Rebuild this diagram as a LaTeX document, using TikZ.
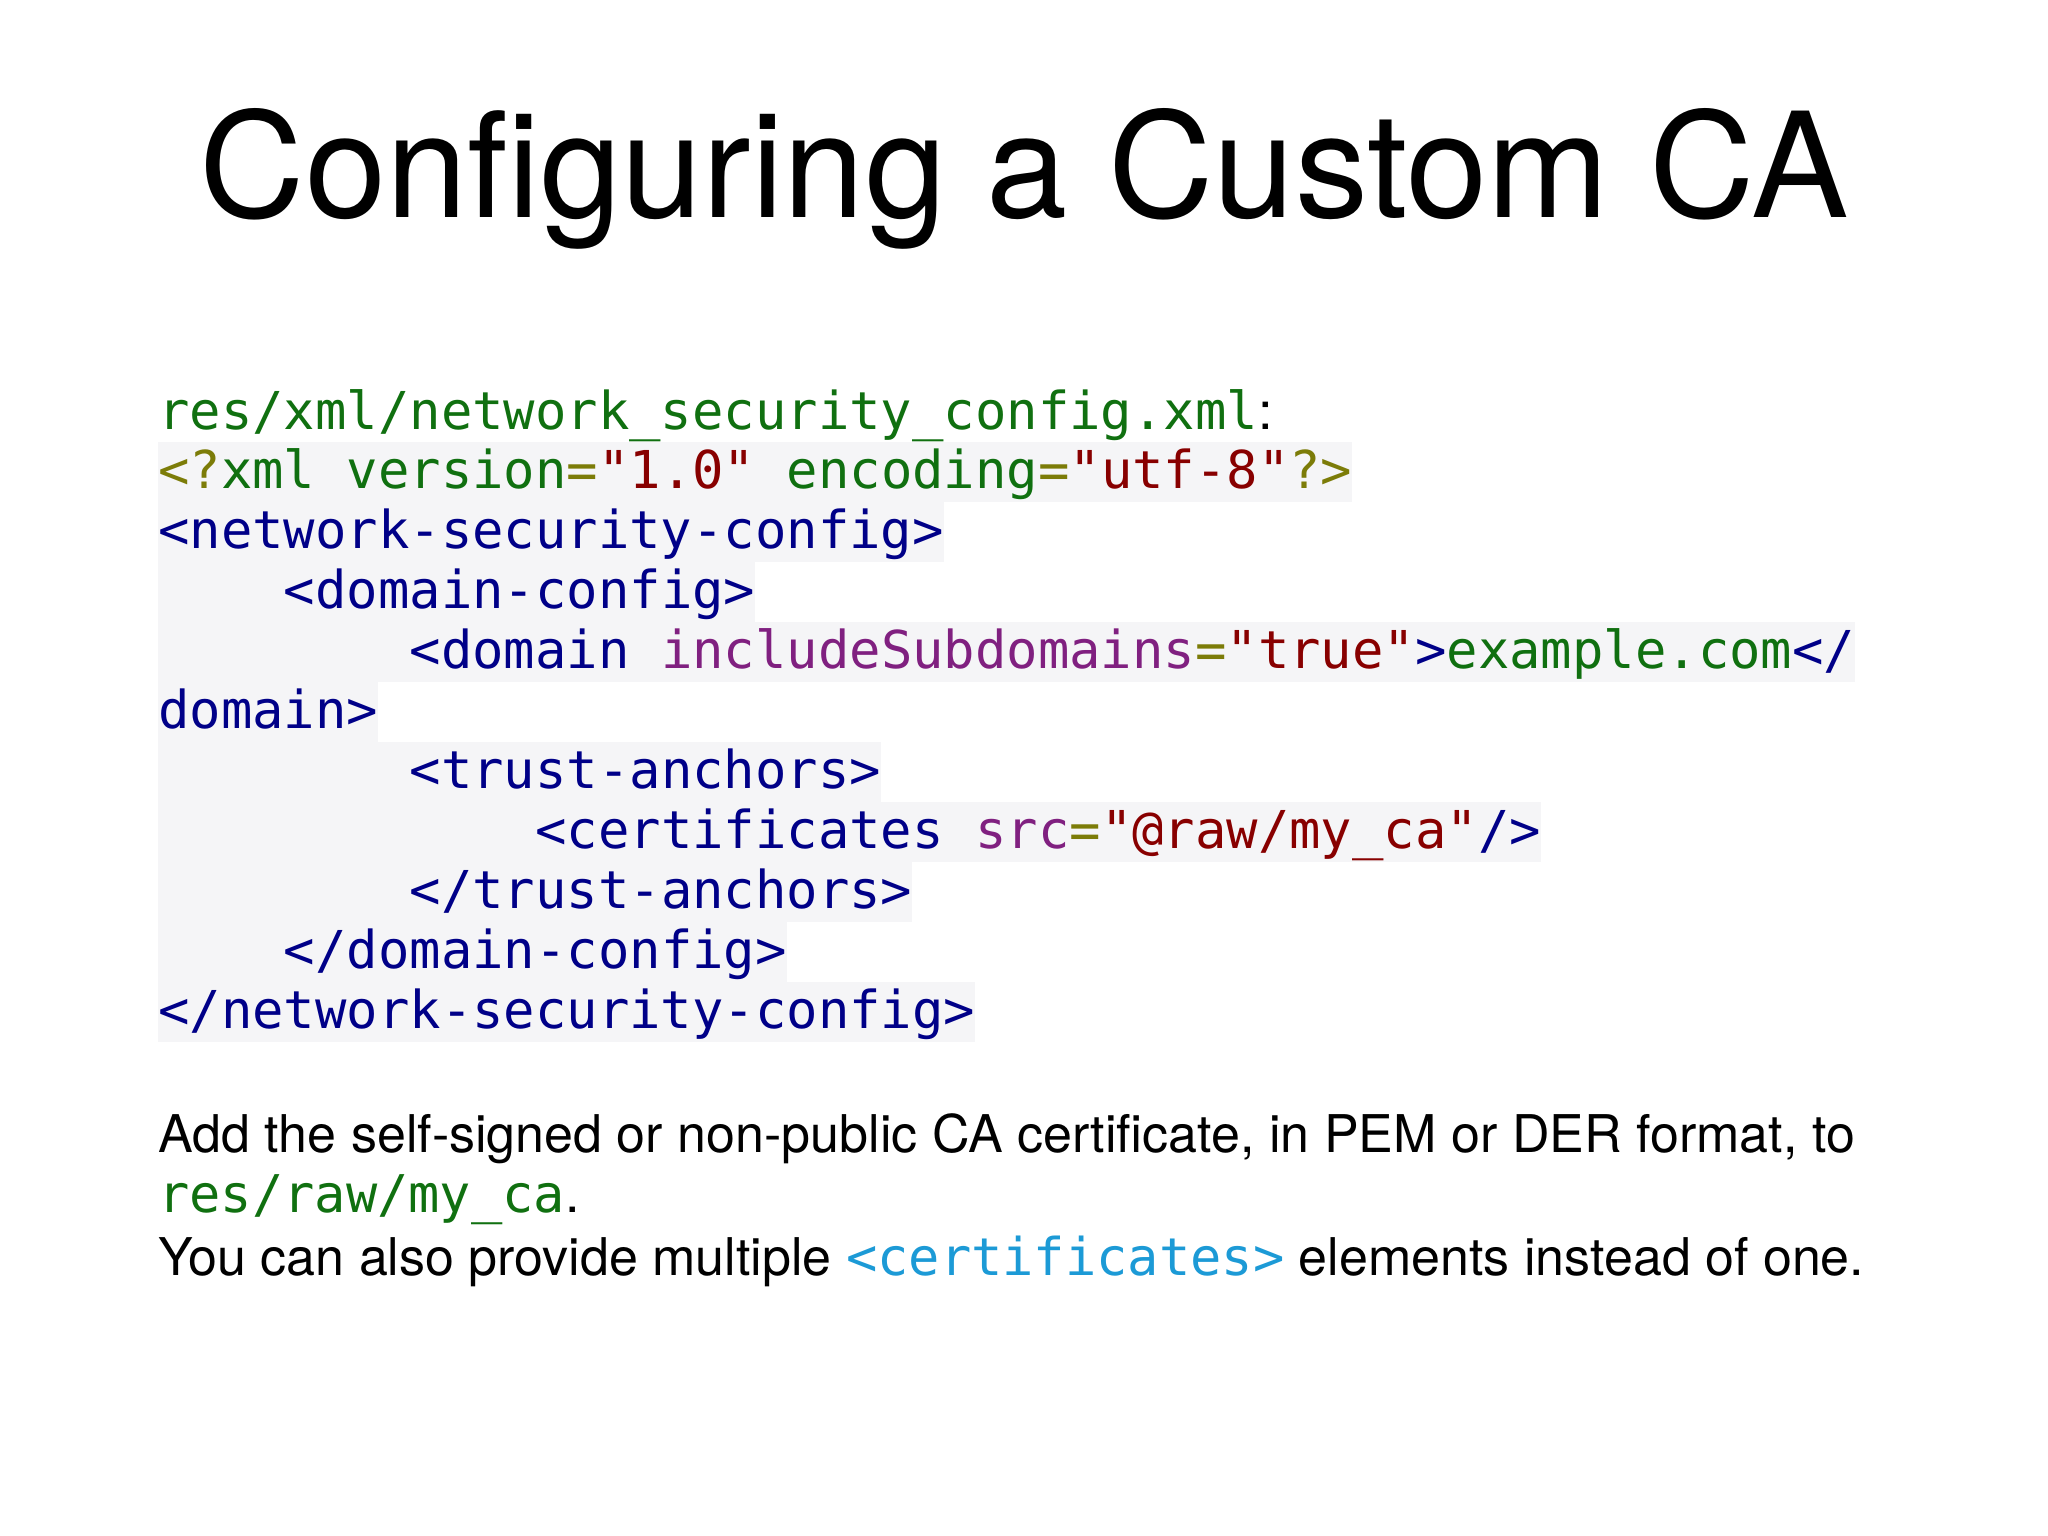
\documentclass[tikz,border=0pt]{standalone}
\usepackage{fontspec}
\setmainfont{TeX Gyre Heros}
\setmonofont{DejaVu Sans Mono}
\definecolor{cgreen}{RGB}{16,112,16}
\definecolor{colive}{RGB}{124,124,8}
\definecolor{cred}{RGB}{136,0,0}
\definecolor{cnavy}{RGB}{0,0,136}
\definecolor{cpurple}{RGB}{128,32,128}
\definecolor{cblue}{RGB}{28,154,214}
\definecolor{cbg}{RGB}{245,245,247}
\newcommand\ind[1]{\hspace*{#1\dimexpr 0.60205em\relax}}
\begin{document}
\begin{tikzpicture}[x=1pt,y=-1pt,
  titletext/.style={anchor=base, inner sep=0pt, font=\fontsize{146}{160}\selectfont},
  codeplain/.style={anchor=base west, inner sep=0pt, font=\fontsize{52.2}{60}\selectfont\ttfamily},
  codeline/.style={codeplain, fill=cbg, text height=46pt, text depth=14pt},
  bodytext/.style={anchor=base west, inner sep=0pt, font=\fontsize{52}{60}\selectfont}]
\useasboundingbox (0,0) rectangle (2048,1536);
\fill[white] (0,0) rectangle (2048,1536);

\node[titletext] (title) at (1024,217) {Configuring a Custom CA};

\node[codeline] (l1) at (158,488) {\textcolor{colive}{<?}\textcolor{cgreen}{xml version}\textcolor{colive}{=}\textcolor{cred}{"1.0"} \textcolor{cgreen}{encoding}\textcolor{colive}{=}\textcolor{cred}{"utf-8"}\textcolor{colive}{?>}};
\node[codeline] (l2) at (158,548) {\textcolor{cnavy}{<network-security-config>}};
\node[codeline] (l3) at (158,608) {\ind{4}\textcolor{cnavy}{<domain-config>}};
\node[codeline] (l4) at (158,668) {\ind{8}\textcolor{cnavy}{<domain} \textcolor{cpurple}{includeSubdomains}\textcolor{colive}{=}\textcolor{cred}{"true"}\textcolor{cnavy}{>}\textcolor{cgreen}{example.com}\textcolor{cnavy}{</}};
\node[codeline] (l5) at (158,728) {\textcolor{cnavy}{domain>}};
\node[codeline] (l6) at (158,788) {\ind{8}\textcolor{cnavy}{<trust-anchors>}};
\node[codeline] (l7) at (158,848) {\ind{12}\textcolor{cnavy}{<certificates} \textcolor{cpurple}{src}\textcolor{colive}{=}\textcolor{cred}{"@raw/my\_ca"}\textcolor{cnavy}{/>}};
\node[codeline] (l8) at (158,908) {\ind{8}\textcolor{cnavy}{</trust-anchors>}};
\node[codeline] (l9) at (158,968) {\ind{4}\textcolor{cnavy}{</domain-config>}};
\node[codeline] (l10) at (158,1028) {\textcolor{cnavy}{</network-security-config>}};

\node[codeplain] (path) at (158,429) {\textcolor{cgreen}{res/xml/network\_security\_config.xml}{\rmfamily :}};

\node[bodytext] (b1) at (158,1152) {Add the self-signed or non-public CA certificate, in PEM or DER format, to};
\node[bodytext] (b2) at (158,1212) {{\ttfamily\color{cgreen}res/raw/my\_ca}.};
\node[bodytext] (b3) at (158,1275) {You can also provide multiple {\ttfamily\color{cblue}<certificates>} elements instead of one.};
\end{tikzpicture}
\end{document}
